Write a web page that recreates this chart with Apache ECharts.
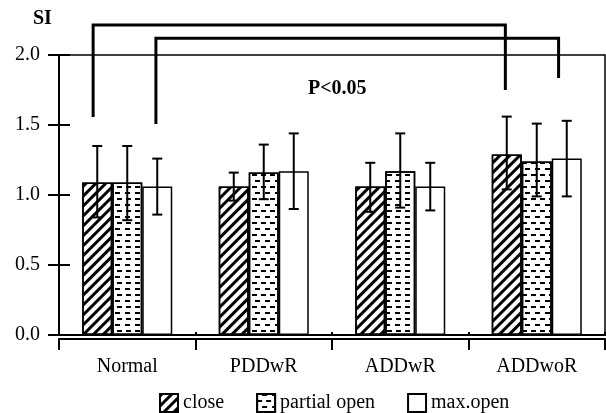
<!DOCTYPE html>
<html>
<head>
<meta charset="utf-8">
<script src="https://cdn.jsdelivr.net/npm/echarts@6/dist/echarts.min.js"></script>
<style>html,body{margin:0;padding:0;background:#fff}#c{width:606px;height:413px}</style>
</head>
<body>
<div id="c"></div>
<script>
var categories = ['Normal', 'PDDwR', 'ADDwR', 'ADDwoR'];
var seriesNames = ['close', 'partial open', 'max.open'];
var closeMean = [1.09, 1.06, 1.06, 1.29];
var closeLow  = [0.84, 0.96, 0.88, 1.04];
var closeHigh = [1.35, 1.16, 1.23, 1.56];
var partialMean = [1.09, 1.16, 1.17, 1.24];
var partialLow  = [0.82, 0.97, 0.91, 0.99];
var partialHigh = [1.35, 1.36, 1.44, 1.51];
var maxMean = [1.06, 1.17, 1.06, 1.26];
var maxLow  = [0.86, 0.90, 0.89, 0.99];
var maxHigh = [1.26, 1.44, 1.23, 1.53];
var yTicks = [0, 0.5, 1.0, 1.5, 2.0];
// significance brackets: [xLeft, xRight, yTop, yLeftEnd, yRightEnd] in category-index units
var brackets = [
  [-0.25, 2.77, 2.214, 1.557, 1.75],
  [0.21, 3.16, 2.12, 1.507, 1.836]
];
var pText = 'P<0.05';

var FONT = 'Liberation Serif';
var decals = [
  {symbol: 'rect', color: '#000', dashArrayX: [1, 0], dashArrayY: [3, 4], rotation: -Math.PI / 4},
  {symbol: 'rect', color: '#000', dashArrayX: [[5, 4], [0, 4.5, 4.5, 0]], dashArrayY: [2, 4], rotation: 0},
  null
];
var means = [closeMean, partialMean, maxMean];
var lows = [closeLow, partialLow, maxLow];
var highs = [closeHigh, partialHigh, maxHigh];
var BW = 30;

var series = [];
for (var s = 0; s < 3; s++) {
  var st = {color: '#fff', borderColor: '#000', borderWidth: 1.5};
  if (decals[s]) st.decal = decals[s];
  series.push({
    name: seriesNames[s], type: 'bar', xAxisIndex: 0, yAxisIndex: 0,
    barWidth: BW, barGap: '0%', data: means[s], itemStyle: st,
    emphasis: {disabled: true}, z: 2
  });
}
for (var s2 = 0; s2 < 3; s2++) {
  (function (k) {
    var d = categories.map(function (c, i) { return [i, lows[k][i], highs[k][i]]; });
    series.push({
      type: 'custom', xAxisIndex: 0, yAxisIndex: 0, z: 5, silent: true,
      data: d,
      renderItem: function (params, api) {
        var off = (k - 1) * BW;
        var pH = api.coord([api.value(0), api.value(2)]);
        var pL = api.coord([api.value(0), api.value(1)]);
        var x = pH[0] + off;
        var c = 5;
        var style = {stroke: '#000', lineWidth: 2};
        return {type: 'group', children: [
          {type: 'line', shape: {x1: x, y1: pH[1], x2: x, y2: pL[1]}, style: style},
          {type: 'line', shape: {x1: x - c, y1: pH[1], x2: x + c, y2: pH[1]}, style: style},
          {type: 'line', shape: {x1: x - c, y1: pL[1], x2: x + c, y2: pL[1]}, style: style}
        ]};
      }
    });
  })(s2);
}
// significance brackets + inner half of y ticks drawn in one custom series
var overlayData = brackets.map(function (b) { return [b[0], b[1], b[2], b[3], b[4], 0]; })
  .concat(yTicks.map(function (v) { return [-0.5, -0.5, v, v, v, 1]; }));
series.push({
  type: 'custom', xAxisIndex: 2, yAxisIndex: 0, z: 6, silent: true, clip: false,
  data: overlayData,
  renderItem: function (params, api) {
    if (api.value(5) === 1) {
      var p = api.coord([api.value(0), api.value(2)]);
      return {type: 'polyline', shape: {points: [[p[0], p[1]], [p[0] + 11, p[1]]]}, style: {stroke: '#000', lineWidth: 2, fill: null}};
    }
    var a = api.coord([api.value(0), api.value(3)]);
    var b = api.coord([api.value(0), api.value(2)]);
    var c = api.coord([api.value(1), api.value(2)]);
    var d = api.coord([api.value(1), api.value(4)]);
    return {type: 'polyline', shape: {points: [a, b, c, d]}, style: {stroke: '#000', lineWidth: 3, fill: null}};
  }
});

var chart = echarts.init(document.getElementById('c'), null, {renderer: 'canvas'});
chart.setOption({
  animation: false,
  backgroundColor: '#fff',
  grid: {left: 59, right: 1, top: 55, bottom: 78, show: true, borderColor: '#000', borderWidth: 1.5, backgroundColor: 'transparent'},
  legend: {
    data: seriesNames, left: 154, top: 388, icon: 'rect', itemWidth: 18, itemHeight: 18, itemGap: 32,
    textStyle: {fontFamily: FONT, fontSize: 20, color: '#000'}, selectedMode: false
  },
  xAxis: [
    {type: 'category', data: categories, position: 'bottom',
      axisLine: {onZero: false, lineStyle: {color: '#000', width: 2}},
      axisTick: {show: true, inside: true, length: 3, lineStyle: {color: '#000', width: 2}},
      axisLabel: {fontFamily: FONT, fontSize: 20, color: '#000', margin: 22},
      splitLine: {show: false}},
    {type: 'category', data: categories, position: 'bottom', offset: 4,
      axisLine: {onZero: false, lineStyle: {color: '#000', width: 2}},
      axisTick: {show: true, length: 11, lineStyle: {color: '#000', width: 2}},
      axisLabel: {show: false}, splitLine: {show: false}},
    {type: 'value', min: -0.5, max: 3.5, show: false, axisLine: {onZero: false}}
  ],
  yAxis: [
    {type: 'value', min: 0, max: 2, interval: 0.5, position: 'left',
      axisLine: {show: true, onZero: false, lineStyle: {color: '#000', width: 2}},
      axisTick: {show: true, length: 11, lineStyle: {color: '#000', width: 2}},
      axisLabel: {fontFamily: FONT, fontSize: 20, color: '#000', margin: 19,
        formatter: function (v) { return yTicks.indexOf(v) >= 0 ? v.toFixed(1) : ''; }},
      splitLine: {show: false}}
  ],
  graphic: [
    {type: 'text', left: 33, top: 9, style: {text: 'SI', font: 'bold 20px "Liberation Serif"', fill: '#000'}},
    {type: 'text', left: 308, top: 79, style: {text: pText, font: 'bold 20px "Liberation Serif"', fill: '#000'}}
  ],
  series: series
});
</script>
</body>
</html>
